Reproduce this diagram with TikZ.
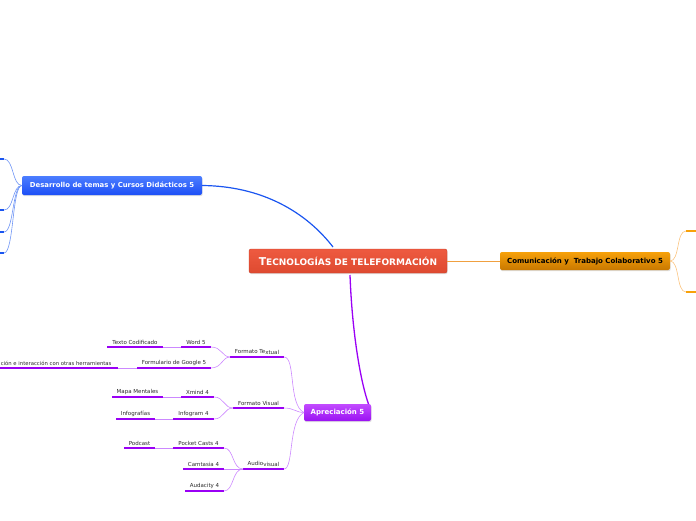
\documentclass[tikz,border=0pt]{standalone}
\usepackage{fontspec}
\setmainfont{DejaVu Sans}
\usetikzlibrary{shadows}
\definecolor{redtop}{HTML}{EE5A40}
\definecolor{redbot}{HTML}{DE4A30}
\definecolor{redborder}{HTML}{C8402A}
\definecolor{bluetop}{HTML}{4C7EFF}
\definecolor{bluebot}{HTML}{1C4EF6}
\definecolor{blueline}{HTML}{1A55F0}
\definecolor{bluethin}{HTML}{6F95F5}
\definecolor{orangetop}{HTML}{F7A10A}
\definecolor{orangebot}{HTML}{C87800}
\definecolor{orangeline}{HTML}{F0A040}
\definecolor{orangethin}{HTML}{FBC480}
\definecolor{purptop}{HTML}{C24BFF}
\definecolor{purpbot}{HTML}{9A12F2}
\definecolor{purpline}{HTML}{9A00F5}
\definecolor{purpthin}{HTML}{CC88FF}
\definecolor{labeltext}{HTML}{2A2A2A}
\begin{document}
\begin{tikzpicture}[x=1pt,y=-1pt,
  mainbox/.style={rounded corners=2pt, inner sep=0pt, outer sep=0pt,
    drop shadow={opacity=0.25, shadow xshift=0.6pt, shadow yshift=-1.2pt}},
  lbl/.style={font=\fontsize{5.5}{6.5}\selectfont, text=labeltext, inner sep=2.2pt, anchor=south},
  ul/.style={line width=2.4pt, purpline},
  thinp/.style={line width=0.6pt, purpthin},
  thinb/.style={line width=0.6pt, bluethin},
  thino/.style={line width=0.6pt, orangethin},
]
\useasboundingbox (0,0) rectangle (696,520);

% ---------- main nodes ----------
\node[mainbox, draw=redborder, line width=0.4pt, top color=redtop, bottom color=redbot,
  minimum width=198pt, minimum height=24pt, text=white, font=\bfseries]
  (center) at (348,261)
  {{\fontsize{10.8}{11}\selectfont T}{\fontsize{9}{10}\selectfont ECNOLOGÍAS DE TELEFORMACIÓN}};

\node[mainbox, top color=bluetop, bottom color=bluebot,
  minimum width=180pt, minimum height=19pt, text=white,
  font=\bfseries\fontsize{6.9}{8}\selectfont]
  (desarrollo) at (112,185.5) {Desarrollo de temas y Cursos Didácticos 5};

\node[mainbox, top color=orangetop, bottom color=orangebot,
  minimum width=170pt, minimum height=18pt, text=black,
  font=\bfseries\fontsize{7}{8}\selectfont]
  (comunic) at (585,261) {Comunicación y\ \ Trabajo Colaborativo 5};

\node[mainbox, top color=purptop, bottom color=purpbot,
  minimum width=67pt, minimum height=17pt, text=white,
  font=\bfseries\fontsize{7}{8}\selectfont]
  (aprec) at (337.5,412.5) {Apreciación 5};

% ---------- main connectors ----------
\coordinate (cTop) at (333,247);
\coordinate (cBot) at (350,275);
\draw[blueline, line width=1.2pt] (desarrollo.east) .. controls (262,186) and (306,212) .. (cTop);
\draw[orangeline, line width=0.7pt] (center.east) -- (comunic.west);
\draw[purpline, line width=1.3pt] (cBot) .. controls (352,330) and (360,380) .. ([xshift=31pt]aprec.north);

% ---------- left (blue) children stubs ----------
\coordinate (dL) at (22,185.5);
\foreach \yy/\nm in {159/b1, 210/b2, 232/b3, 253/b4}{
  \coordinate (\nm) at (4,\yy);
  \coordinate (\nm e) at (0,\yy);
  \draw[thinb] (dL) .. controls (12,185.5) and (14,\yy) .. (\nm);
  \draw[blueline, line width=2.2pt] (\nm e) -- (\nm);
}

% ---------- right (orange) children stubs ----------
\coordinate (oR) at (670,261);
\foreach \yy/\nm in {231/o1, 292/o2}{
  \coordinate (\nm) at (686,\yy);
  \coordinate (\nm e) at (696,\yy);
  \draw[thino] (oR) .. controls (680,261) and (676,\yy) .. (\nm);
  \draw[orangetop, line width=2.2pt] (\nm) -- (\nm e);
}

% ---------- Apreciación branches ----------
\coordinate (apL) at (304,412.5);
% Formato Textual
\coordinate (ftL) at (230,357); \coordinate (ftR) at (284,357);
\draw[ul] (ftL) -- (ftR);
\node[lbl] (ft) at (257,357) {Formato Te\raisebox{-0.8pt}{xtual}};
\draw[thinp] (ftR) .. controls (296,357) and (288,405) .. (apL);
% Formato Visual
\coordinate (fvL) at (233,408); \coordinate (fvR) at (284,408);
\draw[ul] (fvL) -- (fvR);
\node[lbl] (fv) at (258.5,408) {Formato Visual};
\draw[thinp] (fvR) .. controls (294,408) and (296,412.5) .. (apL);
% Audiovisual
\coordinate (avL) at (243,469); \coordinate (avR) at (284,469);
\draw[ul] (avL) -- (avR);
\node[lbl] (av) at (263.5,469) {Audio\raisebox{-0.8pt}{visual}};
\draw[thinp] (avR) .. controls (294,469) and (288,420) .. (apL);

% ---- Formato Textual children ----
\coordinate (w5L) at (181,347); \coordinate (w5R) at (211,347);
\draw[ul] (w5L) -- (w5R);
\node[lbl] (w5) at (196,347) {Word 5};
\coordinate (tcL) at (107,347); \coordinate (tcR) at (163,347);
\draw[ul] (tcL) -- (tcR);
\node[lbl] (tc) at (135,347) {Texto Codificado};
\draw[thinp] (tcR) -- (w5L);

\coordinate (fgL) at (137,368); \coordinate (fgR) at (211,368);
\draw[ul] (fgL) -- (fgR);
\node[lbl] (fg) at (174,368) {Formulario de Google 5};
\coordinate (ciL) at (0,368); \coordinate (ciR) at (118,368);
\draw[ul] (ciL) -- (ciR);
\node[lbl, anchor=south west, inner xsep=0.6pt, font=\fontsize{5.3}{6.5}\selectfont] (ci) at (0,368) {ción e interacción con otras herramientas};
\draw[thinp] (ciR) -- (fgL);

\draw[thinp] (ftL) .. controls (222,357) and (222,347) .. (w5R);
\draw[thinp] (ftL) .. controls (222,357) and (222,368) .. (fgR);

% ---- Formato Visual children ----
\coordinate (xmL) at (181,397); \coordinate (xmR) at (214,397);
\draw[ul] (xmL) -- (xmR);
\node[lbl] (xm) at (197.5,397) {Xmind 4};
\coordinate (mmL) at (112,397); \coordinate (mmR) at (163,397);
\draw[ul] (mmL) -- (mmR);
\node[lbl] (mm) at (137.5,397) {Mapa Mentales};
\draw[thinp] (mmR) -- (xmL);

\coordinate (igL) at (173,419); \coordinate (igR) at (214,419);
\draw[ul] (igL) -- (igR);
\node[lbl] (ig) at (193.5,419) {Infogram 4};
\coordinate (ifL) at (116,419); \coordinate (ifR) at (155,419);
\draw[ul] (ifL) -- (ifR);
\node[lbl] (inf) at (135.5,419) {Infografías};
\draw[thinp] (ifR) -- (igL);

\draw[thinp] (fvL) .. controls (224,408) and (224,397) .. (xmR);
\draw[thinp] (fvL) .. controls (224,408) and (224,419) .. (igR);

% ---- Audiovisual children ----
\coordinate (pcL) at (173,448); \coordinate (pcR) at (224,448);
\draw[ul] (pcL) -- (pcR);
\node[lbl] (pc) at (198.5,448) {Pocket Casts 4};
\coordinate (poL) at (124,448); \coordinate (poR) at (155,448);
\draw[ul] (poL) -- (poR);
\node[lbl] (po) at (139.5,448) {Podcast};
\draw[thinp] (poR) -- (pcL);

\coordinate (caL) at (183,469); \coordinate (caR) at (224,469);
\draw[ul] (caL) -- (caR);
\node[lbl] (ca) at (203.5,469) {Camtasia 4};

\coordinate (auL) at (185,491); \coordinate (auR) at (224,491);
\draw[ul] (auL) -- (auR);
\node[lbl] (au) at (204.5,491) {Audacity 4};

\draw[thinp] (avL) -- (caR);
\draw[thinp] (avL) .. controls (232,469) and (234,448) .. (pcR);
\draw[thinp] (avL) .. controls (232,469) and (234,491) .. (auR);
\end{tikzpicture}
\end{document}
